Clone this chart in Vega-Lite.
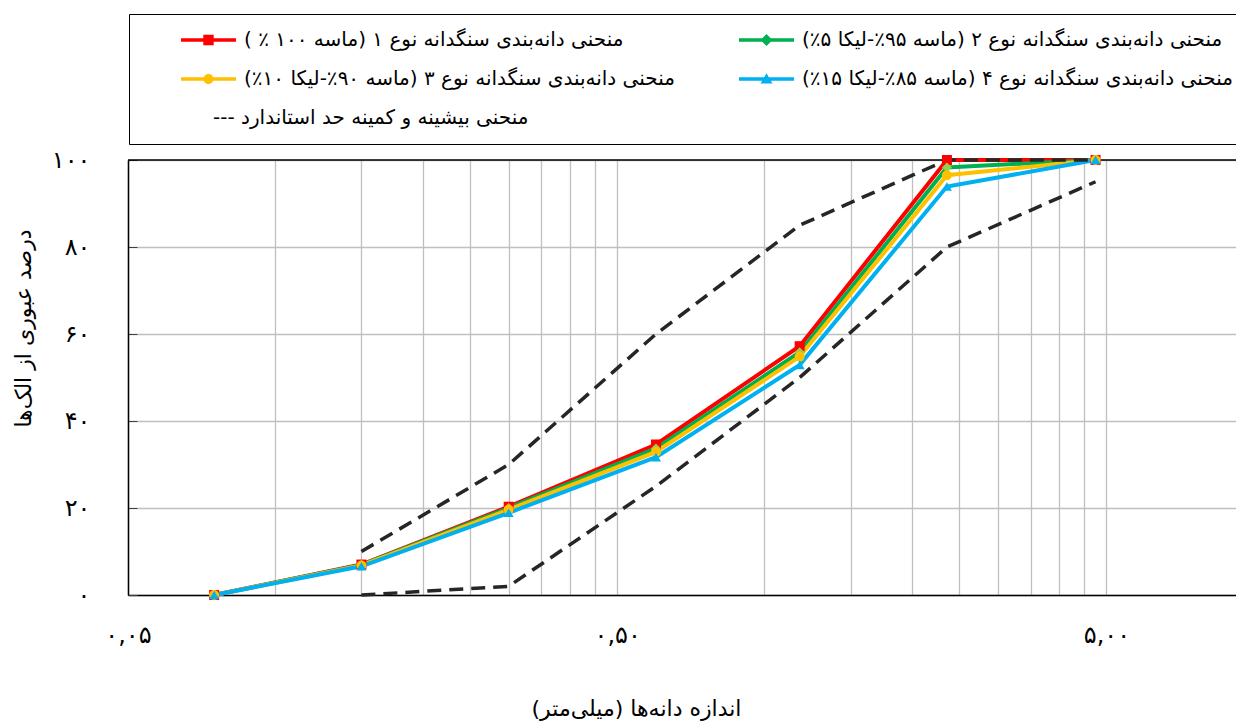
{
  "$schema": "https://vega.github.io/schema/vega-lite/v6.json",
  "width": 1108,
  "height": 435,
  "autosize": {"type": "none"},
  "padding": {"left": 128, "top": 160, "right": 0, "bottom": 129},
  "background": "white",
  "config": {
    "font": "DejaVu Sans",
    "view": {"stroke": null},
    "axis": {
      "labelColor": "black",
      "titleColor": "black",
      "titleFontWeight": "normal",
      "domainColor": "black",
      "domainWidth": 1.5,
      "gridColor": "#BFBFBF",
      "gridWidth": 1.3,
      "tickColor": "#404040",
      "labelFont": "DejaVu Sans",
      "titleFont": "DejaVu Sans"
    }
  },
  "datasets": {
    "grading": [
      {"sieve": 0.075, "passing": 0, "curve": "type1"},
      {"sieve": 0.15, "passing": 7.0, "curve": "type1"},
      {"sieve": 0.3, "passing": 20.3, "curve": "type1"},
      {"sieve": 0.6, "passing": 34.6, "curve": "type1"},
      {"sieve": 1.18, "passing": 57.2, "curve": "type1"},
      {"sieve": 2.36, "passing": 100, "curve": "type1"},
      {"sieve": 4.75, "passing": 100, "curve": "type1"},
      {"sieve": 0.075, "passing": 0, "curve": "type2"},
      {"sieve": 0.15, "passing": 6.9, "curve": "type2"},
      {"sieve": 0.3, "passing": 20.0, "curve": "type2"},
      {"sieve": 0.6, "passing": 33.7, "curve": "type2"},
      {"sieve": 1.18, "passing": 55.8, "curve": "type2"},
      {"sieve": 2.36, "passing": 98.3, "curve": "type2"},
      {"sieve": 4.75, "passing": 100, "curve": "type2"},
      {"sieve": 0.075, "passing": 0, "curve": "type3"},
      {"sieve": 0.15, "passing": 6.8, "curve": "type3"},
      {"sieve": 0.3, "passing": 19.6, "curve": "type3"},
      {"sieve": 0.6, "passing": 32.9, "curve": "type3"},
      {"sieve": 1.18, "passing": 54.8, "curve": "type3"},
      {"sieve": 2.36, "passing": 96.5, "curve": "type3"},
      {"sieve": 4.75, "passing": 100, "curve": "type3"},
      {"sieve": 0.075, "passing": 0, "curve": "type4"},
      {"sieve": 0.15, "passing": 6.6, "curve": "type4"},
      {"sieve": 0.3, "passing": 18.9, "curve": "type4"},
      {"sieve": 0.6, "passing": 31.7, "curve": "type4"},
      {"sieve": 1.18, "passing": 52.9, "curve": "type4"},
      {"sieve": 2.36, "passing": 93.9, "curve": "type4"},
      {"sieve": 4.75, "passing": 100, "curve": "type4"},
      {"sieve": 0.15, "passing": 10, "curve": "limit", "bound": "max"},
      {"sieve": 0.3, "passing": 30, "curve": "limit", "bound": "max"},
      {"sieve": 0.6, "passing": 60, "curve": "limit", "bound": "max"},
      {"sieve": 1.18, "passing": 85, "curve": "limit", "bound": "max"},
      {"sieve": 2.36, "passing": 100, "curve": "limit", "bound": "max"},
      {"sieve": 4.75, "passing": 100, "curve": "limit", "bound": "max"},
      {"sieve": 0.15, "passing": 0, "curve": "limit", "bound": "min"},
      {"sieve": 0.3, "passing": 2, "curve": "limit", "bound": "min"},
      {"sieve": 0.6, "passing": 25, "curve": "limit", "bound": "min"},
      {"sieve": 1.18, "passing": 50, "curve": "limit", "bound": "min"},
      {"sieve": 2.36, "passing": 80, "curve": "limit", "bound": "min"},
      {"sieve": 4.75, "passing": 95, "curve": "limit", "bound": "min"}
    ]
  },
  "layer": [
    {
      "data": {"values": [{"passing": 100}]},
      "mark": {"type": "rule", "color": "black", "strokeWidth": 1.5},
      "encoding": {"y": {"field": "passing", "type": "quantitative"}}
    },
    {
      "data": {"name": "grading"},
      "transform": [{"filter": "datum.curve !== 'limit'"}],
      "mark": {"type": "line", "strokeWidth": 4, "clip": false},
      "encoding": {
        "x": {
          "field": "sieve",
          "type": "quantitative",
          "scale": {"type": "log", "domain": [0.05, 9.2], "nice": false},
          "axis": {
            "values": [0.05, 0.1, 0.15, 0.2, 0.25, 0.3, 0.35, 0.4, 0.45, 0.5, 1, 1.5, 2, 2.5, 3, 3.5, 4, 4.5, 5],
            "labelExpr": "datum.value == 0.05 ? '۰,۰۵' : datum.value == 0.5 ? '۰,۵۰' : datum.value == 5 ? '۵,۰۰' : ''",
            "ticks": false,
            "labelFlush": false,
            "labelOverlap": false,
            "labelBound": false,
            "labelFontSize": 24,
            "labelPadding": 28,
            "title": "‏اندازه دانه‌ها (میلی‌متر)‏",
            "titleFontSize": 22,
            "titleX": 508,
            "titleY": 113,
            "titleAlign": "center",
            "titleBaseline": "middle"
          }
        },
        "y": {
          "field": "passing",
          "type": "quantitative",
          "scale": {"domain": [0, 100], "nice": false},
          "axis": {
            "values": [0, 20, 40, 60, 80, 100],
            "labelExpr": "datum.value == 0 ? '۰' : datum.value == 20 ? '۲۰' : datum.value == 40 ? '۴۰' : datum.value == 60 ? '۶۰' : datum.value == 80 ? '۸۰' : '۱۰۰'",
            "tickSize": -9,
            "labelPadding": 47,
            "labelFontSize": 24,
            "title": "درصد عبوری از الک‌ها",
            "titleFontSize": 22,
            "titleX": -105,
            "titleY": 168,
            "titleAlign": "center",
            "titleBaseline": "middle"
          }
        },
        "color": {
          "field": "curve",
          "type": "nominal",
          "scale": {
            "domain": ["type1", "type2", "type3", "type4", "limit"],
            "range": ["#FF0000", "#00B050", "#FFC000", "#00B0F0", "#262626"]
          },
          "legend": {
            "orient": "none",
            "direction": "horizontal",
            "legendX": 1,
            "legendY": -146,
            "columns": 2,
            "title": null,
            "padding": 16,
            "strokeColor": "black",
            "fillColor": "white",
            "symbolSize": 400,
            "symbolStrokeWidth": 0,
            "symbolOffset": 53.5,
            "labelOffset": 25.5,
            "labelFontSize": 20,
            "labelColor": "black",
            "labelLimit": 700,
            "rowPadding": 19,
            "columnPadding": 28,
            "labelExpr": "datum.value === 'type1' ? '‏منحنی دانه‌بندی سنگدانه نوع ۱ (ماسه ۱۰۰ ٪ )‏' : datum.value === 'type2' ? '‏منحنی دانه‌بندی سنگدانه نوع ۲ (ماسه ۹۵٪-لیکا ۵٪)‏' : datum.value === 'type3' ? '‏منحنی دانه‌بندی سنگدانه نوع ۳ (ماسه ۹۰٪-لیکا ۱۰٪)‏' : datum.value === 'type4' ? '‏منحنی دانه‌بندی سنگدانه نوع ۴ (ماسه ۸۵٪-لیکا ۱۵٪)‏' : '‏منحنی بیشینه و کمینه حد استاندارد ---‏'",
            "encode": {
              "symbols": {
                "update": {
                  "shape": {"signal": "datum.value === 'type1' ? 'M-2.75,-0.18H2.75V0.18H-2.75Z M-0.52,-0.52H0.52V0.52H-0.52Z' : datum.value === 'type2' ? 'M-2.75,-0.18H2.75V0.18H-2.75Z M0,-0.6L0.6,0L0,0.6L-0.6,0Z' : datum.value === 'type3' ? 'M-2.75,-0.18H2.75V0.18H-2.75Z M-0.5,0A0.5,0.5 0 1,1 0.5,0A0.5,0.5 0 1,1 -0.5,0Z' : datum.value === 'type4' ? 'M-2.75,-0.18H2.75V0.18H-2.75Z M0,-0.58L0.6,0.45H-0.6Z' : 'M-2.75,-0.18H2.75V0.18H-2.75Z'"},
                  "fill": {"signal": "scale('color', datum.value)"},
                  "stroke": {"value": "transparent"},
                  "opacity": {"signal": "datum.value === 'limit' ? 0 : 1"}
                }
              },
              "labels": {
                "update": {
                  "dx": {"signal": "datum.value === 'limit' ? -31 : 0"}
                }
              }
            }
          }
        }
      }
    },
    {
      "data": {"name": "grading"},
      "transform": [{"filter": "datum.curve === 'limit'"}],
      "mark": {"type": "line", "strokeWidth": 3.5, "strokeDash": [14, 8], "clip": false},
      "encoding": {
        "x": {"field": "sieve", "type": "quantitative"},
        "y": {"field": "passing", "type": "quantitative"},
        "color": {"field": "curve", "type": "nominal"},
        "detail": {"field": "bound", "type": "nominal"}
      }
    },
    {
      "data": {"name": "grading"},
      "transform": [{"filter": "datum.curve !== 'limit'"}],
      "mark": {"type": "point", "filled": true, "opacity": 1, "size": 100, "strokeWidth": 0, "clip": false},
      "encoding": {
        "x": {"field": "sieve", "type": "quantitative"},
        "y": {"field": "passing", "type": "quantitative"},
        "shape": {
          "field": "curve",
          "type": "nominal",
          "scale": {
            "domain": ["type1", "type2", "type3", "type4"],
            "range": ["square", "diamond", "circle", "triangle-up"]
          },
          "legend": null
        },
        "fill": {
          "field": "curve",
          "type": "nominal",
          "scale": {
            "domain": ["type1", "type2", "type3", "type4"],
            "range": ["#FF0000", "#92D050", "#FFC000", "#00B0F0"]
          },
          "legend": null
        }
      }
    }
  ]
}
